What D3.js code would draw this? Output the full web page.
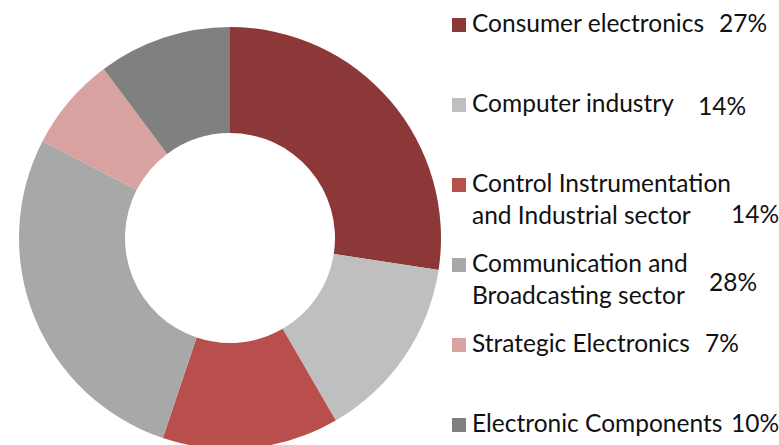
<!DOCTYPE html>
<html>
<head>
<meta charset="utf-8">
<script src="https://cdn.jsdelivr.net/npm/d3@7"></script>
<style>
  html, body { margin: 0; padding: 0; background: #fff; }
  svg { display: block; font-family: Lato, "Open Sans", sans-serif; }
</style>
</head>
<body>
<svg id="chart" width="779" height="445"></svg>
<script>
// sectors, read clockwise from 12 o'clock
const categories = [
  ['Consumer electronics'],
  ['Computer industry'],
  ['Control Instrumentation', 'and Industrial sector'],
  ['Communication and', 'Broadcasting sector'],
  ['Strategic Electronics'],
  ['Electronic Components']
];
const shares = [27.4, 14.2, 13.5, 27.4, 7.2, 10.2];
const shareLabels = ['27%', '14%', '14%', '28%', '7%', '10%'];
const colors = ['#8c3838', '#bfbfbf', '#b94f4c', '#a8a8a8', '#d8a2a1', '#808080'];

// where each percentage sits next to its legend entry (x, baseline offset)
const labelSpots = [[719, 0], [698, 3], [731, 31], [709, 19], [705, 0], [731, 0]];

const svg = d3.select('#chart');
const cx = 230, cy = 238, outerR = 211, innerR = 105;

const pie = d3.pie().sort(null).value(d => d);
const arc = d3.arc().innerRadius(innerR).outerRadius(outerR);

svg.append('g')
  .attr('transform', `translate(${cx},${cy})`)
  .selectAll('path')
  .data(pie(shares))
  .join('path')
  .attr('d', arc)
  .attr('fill', (d, i) => colors[i]);

const rowY = d3.scalePoint().domain(d3.range(categories.length)).range([18, 418]);
const fontSize = 24.5, lineGap = 32, box = 14;

const legend = svg.append('g')
  .selectAll('g')
  .data(categories)
  .join('g')
  .attr('transform', (d, i) => `translate(452,${rowY(i)})`);

legend.append('rect')
  .attr('width', box)
  .attr('height', box)
  .attr('fill', (d, i) => colors[i]);

legend.append('text')
  .attr('x', 20)
  .attr('y', box)
  .attr('font-size', fontSize)
  .attr('fill', '#111')
  .selectAll('tspan')
  .data(d => d)
  .join('tspan')
  .attr('x', 20)
  .attr('dy', (d, j) => j ? lineGap : 0)
  .text(d => d);

legend.append('text')
  .attr('x', (d, i) => labelSpots[i][0] - 452)
  .attr('y', (d, i) => box + labelSpots[i][1])
  .attr('font-size', fontSize)
  .attr('fill', '#111')
  .text((d, i) => shareLabels[i]);
</script>
</body>
</html>
